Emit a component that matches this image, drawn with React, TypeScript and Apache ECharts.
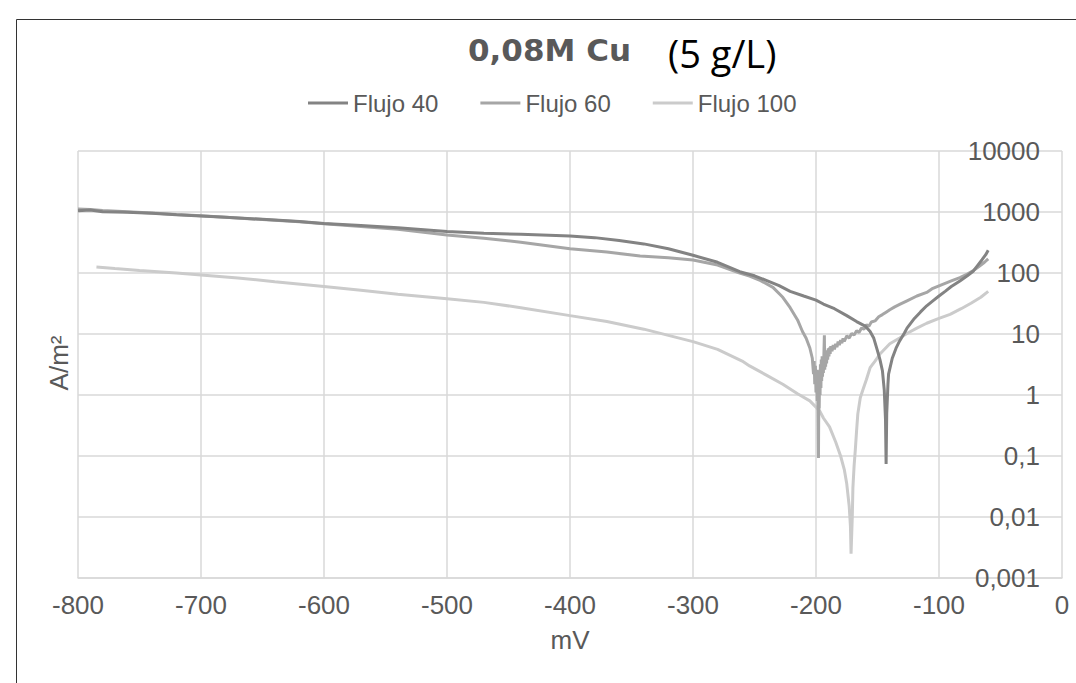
import React, { useEffect, useRef } from "react";
import * as echarts from "echarts";

const seriesNames = ["Flujo 40", "Flujo 60", "Flujo 100"];
const seriesColors = ["#838383", "#a6a6a6", "#cbcbcb"];

const xTicks = { min: -800, max: 0, interval: 100 };
const yRange = { min: 0.001, max: 10000 };

const flujo40: [number, number][] = [
  [-800, 1050], [-790, 1080], [-780, 1010], [-760, 990], [-740, 950], [-720, 900],
  [-700, 860], [-680, 820], [-650, 760], [-620, 700], [-600, 650], [-570, 600],
  [-540, 550], [-500, 480], [-470, 450], [-440, 430], [-400, 405], [-380, 380],
  [-360, 340], [-340, 300], [-320, 250], [-300, 195], [-280, 150], [-262, 105],
  [-250, 90], [-240, 75], [-230, 62], [-221, 50], [-210, 42], [-200, 36],
  [-194, 31], [-185, 26], [-175, 20], [-167, 16], [-160, 13.5], [-156, 11],
  [-153, 8.5], [-150, 5.3], [-148, 3.8], [-146, 2.5], [-144.5, 1.2], [-143.5, 0.4],
  [-143, 0.074], [-142.5, 0.5], [-141.5, 1.5], [-141, 2.2], [-138, 4], [-135, 5.8],
  [-132, 7.7], [-128, 10.5], [-126, 12.5], [-120, 18], [-115, 23], [-110, 29],
  [-105, 35], [-100, 42], [-95, 50], [-90, 60], [-83, 74], [-77, 90], [-72, 108],
  [-69, 130], [-65, 165], [-62, 200], [-60, 235],
];

const flujo60: [number, number][] = [
  [-800, 1120], [-790, 1100], [-780, 1060], [-760, 1010], [-740, 960], [-720, 910],
  [-700, 870], [-680, 820], [-650, 750], [-620, 690], [-600, 640], [-570, 580],
  [-540, 520], [-500, 420], [-470, 370], [-440, 320], [-400, 250], [-370, 220],
  [-343, 190], [-320, 178], [-300, 163], [-280, 135], [-262, 100], [-254, 89],
  [-245, 75], [-235, 58], [-227, 40], [-221, 27], [-215, 17], [-211, 11],
  [-208, 8.5], [-205, 5.9], [-203, 4], [-202, 2.2], [-201.5, 3.6], [-201, 1.5],
  [-200.5, 3.0], [-200, 1.1], [-199.5, 2.6], [-199, 0.8], [-198.5, 2.0], [-198, 0.093],
  [-197.7, 1.2], [-197.4, 0.6], [-197, 2.6], [-196.7, 1.0], [-196.4, 3.2], [-196, 1.3],
  [-195.7, 3.8], [-195.4, 1.7], [-195, 4.3], [-194.7, 2.0], [-194.4, 4.0], [-194, 2.3],
  [-193.6, 4.4], [-193.2, 9.5], [-192.9, 2.6], [-192.5, 4.8], [-192.2, 2.9], [-191.8, 5.0],
  [-191.4, 3.3], [-191, 5.4], [-190.5, 3.8], [-190, 5.8], [-189.5, 4.3], [-189, 6.0],
  [-188.5, 4.7], [-188, 6.3], [-187, 5.2], [-186, 6.6], [-185, 5.6], [-184, 6.9],
  [-183, 6.1], [-182, 7.5], [-181, 6.6], [-180, 7.9], [-179, 7.1], [-178, 8.5],
  [-177, 7.6], [-175, 9.3], [-173, 8.6], [-171, 10.2], [-169, 9.6], [-167, 11.3],
  [-165, 10.6], [-163, 12.5], [-161, 12], [-159, 14.2], [-157, 13.4], [-155, 15.7],
  [-152, 16.4], [-149, 19.2], [-146, 20.8], [-143, 22.8], [-140, 25], [-136, 27.8],
  [-132, 30.5], [-126, 35], [-118, 42], [-110, 48], [-105, 56], [-98, 64],
  [-90, 74], [-83, 84], [-77, 96], [-72, 110], [-67, 130], [-63, 150], [-60, 170],
];

const flujo100: [number, number][] = [
  [-785, 125], [-770, 118], [-750, 110], [-720, 100], [-700, 93], [-670, 83],
  [-640, 72], [-600, 60], [-570, 52], [-540, 45], [-500, 38], [-470, 33],
  [-440, 27], [-400, 20], [-370, 16], [-340, 12], [-300, 7.5], [-280, 5.6],
  [-260, 3.6], [-254, 3], [-240, 2.1], [-227, 1.5], [-215, 1.05], [-205, 0.8],
  [-197, 0.55], [-194, 0.42], [-189, 0.3], [-184, 0.17], [-180, 0.1], [-177, 0.06],
  [-175, 0.035], [-173, 0.015], [-172, 0.007], [-171.5, 0.0025], [-170.5, 0.01],
  [-170, 0.03], [-169, 0.07], [-168, 0.13], [-167, 0.26], [-166, 0.49], [-164, 0.9],
  [-162, 1.2], [-159, 1.8], [-156, 2.8], [-152, 3.6], [-148, 4.7], [-140, 6.9],
  [-132, 8.6], [-125, 10.5], [-118, 12.5], [-110, 15], [-100, 18], [-91, 21],
  [-82, 26], [-74, 32], [-66, 40], [-60, 50],
];

const seriesData = [flujo40, flujo60, flujo100];

const titleMain = "0,08M Cu";
const titleSub = "(5 g/L)";
const xName = "mV";
const yName = "A/m²";

const FONT = "'Liberation Sans', Arial, sans-serif";
const TXT = "#595959";
const GRID = "#d9d9d9";

function fmtY(v: number): string {
  const n = Number(v.toPrecision(6));
  return String(n).replace(".", ",");
}

export default function App() {
  const ref = useRef<HTMLDivElement>(null);
  useEffect(() => {
    if (!ref.current) return;
    const chart = echarts.init(ref.current, undefined, { renderer: "svg" });
    chart.setOption({
      animation: false,
      backgroundColor: "#ffffff",
      grid: { left: 78, right: 14, top: 151, bottom: 105 },
      legend: {
        data: seriesNames,
        left: 308,
        top: 91,
        padding: 0,
        icon: "rect",
        itemWidth: 40,
        itemHeight: 3,
        itemGap: 42,
        textStyle: { fontFamily: FONT, fontSize: 24, color: TXT },
      },
      xAxis: {
        type: "value",
        min: xTicks.min,
        max: xTicks.max,
        interval: xTicks.interval,
        name: xName,
        nameLocation: "middle",
        nameGap: 49,
        nameTextStyle: { fontFamily: FONT, fontSize: 26, color: TXT },
        axisLine: { show: true, lineStyle: { color: GRID, width: 1.5 } },
        axisTick: { show: false },
        axisLabel: { fontFamily: FONT, fontSize: 26, color: TXT, margin: 14 },
        splitLine: { show: true, lineStyle: { color: GRID, width: 1.5 } },
      },
      yAxis: {
        type: "log",
        logBase: 10,
        min: yRange.min,
        max: yRange.max,
        position: "right",
        axisLine: { show: false },
        axisTick: { show: false },
        axisLabel: {
          inside: true,
          margin: 22,
          fontFamily: FONT,
          fontSize: 26,
          color: TXT,
          formatter: (v: number) => fmtY(v),
        },
        splitLine: { show: true, lineStyle: { color: GRID, width: 1.5 } },
      },
      graphic: [
        {
          type: "rect",
          shape: { x: 16.5, y: 19.5, width: 1100, height: 700 },
          style: { fill: "none", stroke: "#333333", lineWidth: 1 },
          silent: true,
          z: 100,
        },
        {
          type: "text",
          left: 468,
          top: 34,
          style: {
            text: titleMain,
            font: "bold 31px 'DejaVu Sans', sans-serif",
            fill: TXT,
          },
        },
        {
          type: "text",
          x: 668,
          y: 53,
          style: {
            text: titleSub,
            font: "38px 'Open Sans', sans-serif",
            fill: "#000000",
            verticalAlign: "middle",
          },
        },
        {
          type: "text",
          x: 59,
          y: 363,
          rotation: Math.PI / 2,
          style: {
            text: yName,
            font: "26px 'Liberation Sans', Arial, sans-serif",
            fill: TXT,
            align: "center",
            verticalAlign: "middle",
          },
        },
      ],
      series: seriesData.map((d, i) => ({
        name: seriesNames[i],
        type: "line",
        data: d,
        showSymbol: false,
        symbol: "none",
        smooth: false,
        lineStyle: { color: seriesColors[i], width: 3 },
        itemStyle: { color: seriesColors[i] },
        z: 3 - i,
      })),
    });
    return () => chart.dispose();
  }, []);
  return (
    <div
      ref={ref}
      style={{ position: "fixed", left: 0, top: 0, width: 1076, height: 683 }}
    />
  );
}
